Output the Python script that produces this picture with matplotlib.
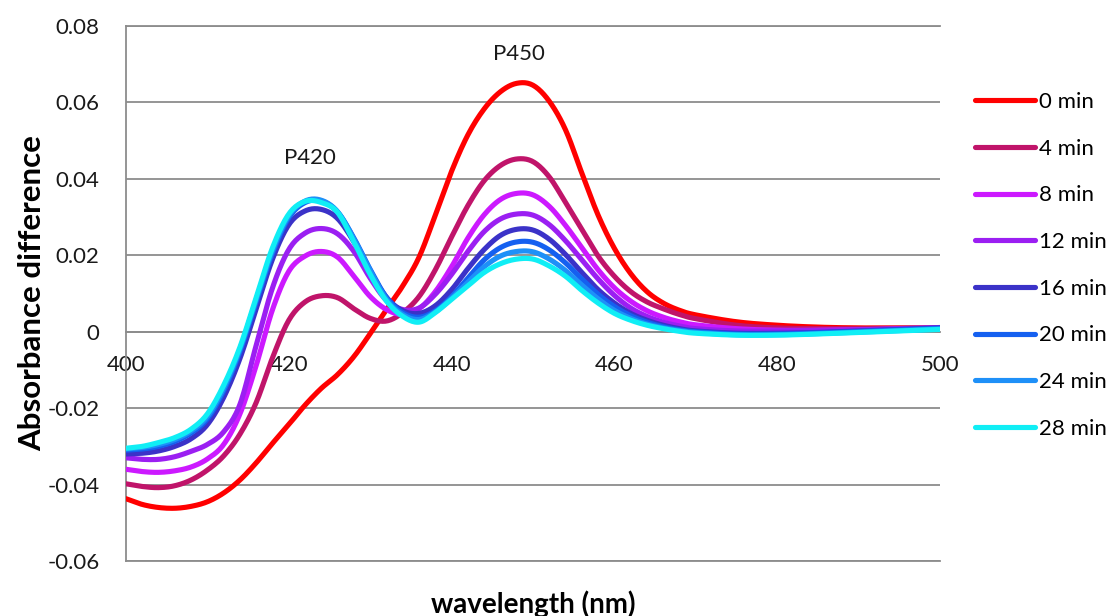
import numpy as np
import matplotlib
matplotlib.use("Agg")
import matplotlib.pyplot as plt
from matplotlib.ticker import FixedLocator, FuncFormatter

# Wavelength grid (nm)
wavelength = [400, 402, 404, 406, 408, 410, 412, 414, 416, 418,
              420, 422, 424, 426, 428, 430, 432, 434, 436, 438,
              440, 442, 444, 446, 448, 450, 452, 454, 456, 458,
              460, 462, 464, 466, 468, 470, 475, 480, 485, 490,
              495, 500]

# Difference spectra recorded at successive times
abs_0min = [-0.0437, -0.0452, -0.0460, -0.0462, -0.0457, -0.0445, -0.0422, -0.0388, -0.0343, -0.0292,
            -0.0243, -0.0192, -0.0148, -0.0112, -0.0065, -0.0005, 0.0058, 0.0120, 0.0195, 0.0305,
            0.0420, 0.0515, 0.0583, 0.0628, 0.0650, 0.0645, 0.0603, 0.0528, 0.0415, 0.0305,
            0.0218, 0.0152, 0.0105, 0.0075, 0.0056, 0.0044, 0.0026, 0.0017, 0.0012, 0.0010,
            0.0010, 0.0010]
abs_4min = [-0.0398, -0.0405, -0.0408, -0.0403, -0.0388, -0.0362, -0.0325, -0.0268, -0.0185, -0.0068,
            0.0030, 0.0078, 0.0094, 0.0089, 0.0060, 0.0035, 0.0028, 0.0050, 0.0092, 0.0162,
            0.0248, 0.0330, 0.0395, 0.0435, 0.0452, 0.0445, 0.0405, 0.0338, 0.0268, 0.0198,
            0.0145, 0.0105, 0.0078, 0.0060, 0.0045, 0.0034, 0.0017, 0.0010, 0.0008, 0.0008,
            0.0009, 0.0010]
abs_8min = [-0.0360, -0.0366, -0.0368, -0.0364, -0.0354, -0.0333, -0.0295, -0.0215, -0.0088, 0.0058,
            0.0158, 0.0198, 0.0210, 0.0195, 0.0145, 0.0092, 0.0058, 0.0045, 0.0060, 0.0105,
            0.0170, 0.0245, 0.0306, 0.0346, 0.0362, 0.0358, 0.0328, 0.0278, 0.0220, 0.0162,
            0.0115, 0.0080, 0.0055, 0.0038, 0.0026, 0.0018, 0.0008, 0.0004, 0.0004, 0.0005,
            0.0007, 0.0009]
abs_12min = [-0.0330, -0.0334, -0.0334, -0.0327, -0.0313, -0.0295, -0.0262, -0.0190, -0.0035, 0.0115,
             0.0215, 0.0258, 0.0270, 0.0256, 0.0210, 0.0140, 0.0082, 0.0058, 0.0062, 0.0098,
             0.0150, 0.0210, 0.0262, 0.0295, 0.0308, 0.0305, 0.0280, 0.0238, 0.0188, 0.0138,
             0.0095, 0.0062, 0.0040, 0.0025, 0.0015, 0.0008, 0.0002, 0.0002, 0.0003, 0.0005,
             0.0008, 0.0011]
abs_16min = [-0.0320, -0.0318, -0.0312, -0.0300, -0.0280, -0.0243, -0.0172, -0.0070, 0.0060, 0.0190,
             0.0280, 0.0316, 0.0320, 0.0296, 0.0235, 0.0158, 0.0090, 0.0055, 0.0048, 0.0068,
             0.0110, 0.0165, 0.0215, 0.0252, 0.0268, 0.0266, 0.0242, 0.0202, 0.0155, 0.0110,
             0.0075, 0.0048, 0.0030, 0.0017, 0.0008, 0.0002, -0.0004, -0.0004, -0.0002, 0.0002,
             0.0006, 0.0010]
abs_20min = [-0.0310, -0.0307, -0.0300, -0.0287, -0.0265, -0.0228, -0.0155, -0.0052, 0.0078, 0.0205,
             0.0298, 0.0338, 0.0342, 0.0313, 0.0245, 0.0163, 0.0090, 0.0050, 0.0038, 0.0055,
             0.0092, 0.0140, 0.0188, 0.0220, 0.0235, 0.0234, 0.0214, 0.0180, 0.0138, 0.0098,
             0.0066, 0.0042, 0.0025, 0.0013, 0.0005, 0.0000, -0.0006, -0.0006, -0.0003, 0.0001,
             0.0005, 0.0009]
abs_24min = [-0.0307, -0.0303, -0.0295, -0.0282, -0.0260, -0.0222, -0.0148, -0.0046, 0.0084, 0.0212,
             0.0303, 0.0342, 0.0344, 0.0314, 0.0243, 0.0160, 0.0085, 0.0045, 0.0032, 0.0052,
             0.0088, 0.0130, 0.0170, 0.0198, 0.0210, 0.0209, 0.0190, 0.0160, 0.0122, 0.0086,
             0.0056, 0.0035, 0.0020, 0.0010, 0.0003, -0.0002, -0.0008, -0.0008, -0.0005, -0.0001,
             0.0003, 0.0007]
abs_28min = [-0.0305, -0.0300, -0.0290, -0.0277, -0.0255, -0.0215, -0.0140, -0.0040, 0.0090, 0.0220,
             0.0308, 0.0341, 0.0338, 0.0312, 0.0235, 0.0150, 0.0080, 0.0040, 0.0025, 0.0050,
             0.0085, 0.0120, 0.0155, 0.0178, 0.0190, 0.0190, 0.0172, 0.0145, 0.0108, 0.0075,
             0.0048, 0.0030, 0.0017, 0.0008, 0.0001, -0.0004, -0.0009, -0.0009, -0.0006, -0.0002,
             0.0002, 0.0006]

series_labels = ["0 min", "4 min", "8 min", "12 min", "16 min", "20 min", "24 min", "28 min"]
series_values = [abs_0min, abs_4min, abs_8min, abs_12min, abs_16min, abs_20min, abs_24min, abs_28min]
series_colors = ["#FF0000", "#C0146A", "#CC19FF", "#9B1FF2", "#3B32C8", "#1560F0", "#1E90F8", "#10EEF5"]

x_ticks = [400, 420, 440, 460, 480, 500]
y_ticks = [-0.06, -0.04, -0.02, 0.0, 0.02, 0.04, 0.06, 0.08]

peak_labels = ["P420", "P450"]
peak_positions = [(422.6, 0.0455), (448.3, 0.0728)]


def smooth_line(xs, ys, steps=12):
    """Catmull-Rom curve through the points, like a smoothed spreadsheet line."""
    p = np.column_stack([xs, ys]).astype(float)
    p = np.vstack([p[0], p, p[-1]])
    t = np.linspace(0, 1, steps, endpoint=False)[:, None]
    out = []
    for i in range(1, len(p) - 2):
        p0, p1, p2, p3 = p[i - 1], p[i], p[i + 1], p[i + 2]
        seg = 0.5 * ((2 * p1) + (-p0 + p2) * t + (2 * p0 - 5 * p1 + 4 * p2 - p3) * t ** 2
                     + (-p0 + 3 * p1 - 3 * p2 + p3) * t ** 3)
        out.append(seg)
    out.append(p[-2][None, :])
    out = np.vstack(out)
    return out[:, 0], out[:, 1]


plt.rcParams["font.family"] = ["Lato", "DejaVu Sans"]
fig = plt.figure(figsize=(11.15, 6.16), dpi=100)
ax = fig.add_axes([126 / 1115, 1 - 561 / 616, (940 - 126) / 1115, (561 - 26) / 616])

grid_color = "#8C8C8C"
for lab, vals, col in zip(series_labels, series_values, series_colors):
    sx, sy = smooth_line(wavelength, vals)
    ax.plot(sx, sy, color=col, lw=3.7, label=lab, solid_capstyle="round", zorder=3)

ax.set_xlim(400, 500)
ax.set_ylim(-0.06, 0.08)

ax.xaxis.set_major_locator(FixedLocator(x_ticks))
ax.yaxis.set_major_locator(FixedLocator(y_ticks))
ax.xaxis.set_major_formatter(FuncFormatter(lambda v, p: f"{v:.0f}"))
ax.yaxis.set_major_formatter(FuncFormatter(lambda v, p: "0" if abs(v) < 1e-9 else f"{v:.2f}"))

ax.yaxis.grid(True, color=grid_color, lw=1.3, zorder=1)
ax.set_axisbelow(True)
ax.axhline(-0.06, color=grid_color, lw=1.3, clip_on=False, zorder=1)

ax.spines["right"].set_visible(False)
ax.spines["top"].set_color(grid_color)
ax.spines["top"].set_linewidth(1.3)
ax.spines["left"].set_color(grid_color)
ax.spines["left"].set_linewidth(1.3)
ax.spines["bottom"].set_position(("data", 0))
ax.spines["bottom"].set_color(grid_color)
ax.spines["bottom"].set_linewidth(1.3)

ax.tick_params(axis="x", length=0, pad=17, labelsize=16, colors="#1a1a1a")
ax.tick_params(axis="y", length=0, pad=19, labelsize=16, colors="#1a1a1a")

ax.set_ylabel("Absorbance difference", fontsize=22.5, fontweight="bold")
ax.yaxis.set_label_coords(-0.098, 0.5)
fig.text(533 / 1115, 1 - 590 / 616, "wavelength (nm)", fontsize=20, fontweight="bold",
         ha="center", va="top")

for txt, (px, py) in zip(peak_labels, peak_positions):
    ax.text(px, py, txt, fontsize=16, ha="center", va="center", color="#1a1a1a")

leg = fig.legend(loc="upper left", bbox_to_anchor=(975 / 1115, 1 - 92 / 616), frameon=False,
                 fontsize=16, handlelength=2.7, handletextpad=0.2, labelspacing=1.2,
                 borderpad=0, borderaxespad=0)
for line in leg.get_lines():
    line.set_linewidth(3.7)

fig.savefig("out.png", dpi=100)
